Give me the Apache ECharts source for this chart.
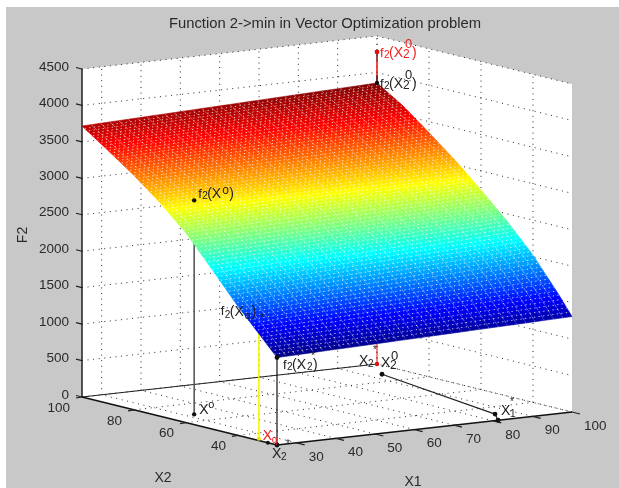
<!DOCTYPE html>
<html><head><meta charset="utf-8">
<style>html,body{margin:0;padding:0;background:#fff}#c{width:619px;height:488px}</style>
<script src="https://cdn.jsdelivr.net/npm/echarts@6/dist/echarts.min.js"></script>
</head><body><div id="c"></div>
<script>
// ---- values ----
const x1Ticks = [30,40,50,60,70,80,90,100];
const x2Ticks = [40,60,80,100];
const zTicks = [0,500,1000,1500,2000,2500,3000,3500,4000,4500];
const x1Range = [25,100];
const x2Range = [25,100];
const zRange = [0,4500];
// surface F2 sampled along its two long edges
const x2Levels = [25,30,40,50,60,70,80,90,100];
const f2AtX1Low  = [1200,1390,1770,2190,2600,2930,3215,3470,3718];
const f2AtX1High = [1310,1560,2020,2400,2740,3060,3350,3630,3855];
// points on the chart [x1,x2,F2]
const pointXo = [32.3,67.9,0];   const pointXoTop = [32.3,67.9,2936];
const pointXq = [26.2,33.8,0];   const pointXqTop = [26.2,33.8,1509];
const pointXqAxis = [25,28.5,0];
const pointX2Star = [25,25,0];   const pointX2StarTop = [25,25,1200];
const pointX20 = [100,100,0];    const pointX20Top = [100,100,3855]; const pointX20Red = [100,100,4281];
const pointX1Start = [93.6,88.4,0]; const pointX1Star = [85.06,32,0]; const pointX1Axis = [81.2,25,0];

// ---- view: orthographic projection of the MATLAB box ----
const ORIGIN=[277,445], EX=[295,-33], EY=[-195,-48], EZ=[0,-328];
function project(p){
  const a=(p[0]-x1Range[0])/(x1Range[1]-x1Range[0]), b=(p[1]-x2Range[0])/(x2Range[1]-x2Range[0]), c=p[2]/zRange[1];
  return [ORIGIN[0]+a*EX[0]+b*EY[0]+c*EZ[0], ORIGIN[1]+a*EX[1]+b*EY[1]+c*EZ[1]];
}
const zMin=Math.min(...f2AtX1Low), zMax=Math.max(...f2AtX1High);
function jet(z){
  const t=(z-zMin)/(zMax-zMin), cl=v=>Math.round(255*Math.max(0,Math.min(1,v)));
  return `rgb(${cl(1.5-Math.abs(4*t-3))},${cl(1.5-Math.abs(4*t-2))},${cl(1.5-Math.abs(4*t-1))})`;
}
function f2(x1,x2){ // shading lookup within the read table, for the fine mesh only
  let i=0; while(i<x2Levels.length-2 && x2>x2Levels[i+1]) i++;
  const u=(x2-x2Levels[i])/(x2Levels[i+1]-x2Levels[i]), v=(x1-x1Range[0])/(x1Range[1]-x1Range[0]);
  const lo=f2AtX1Low[i]+u*(f2AtX1Low[i+1]-f2AtX1Low[i]), hi=f2AtX1High[i]+u*(f2AtX1High[i+1]-f2AtX1High[i]);
  return lo+v*(hi-lo);
}
const X1A=x1Range[0],X1B=x1Range[1],X2A=x2Range[0],X2B=x2Range[1],ZT=zRange[1];
const DOT={stroke:'#2a2a2a',lineWidth:1,lineDash:[1,4.6],fill:null};
const AXIS={stroke:'#222',lineWidth:1.2,fill:null};

function layer(fn,data){return {type:'custom',coordinateSystem:'cartesian2d',silent:true,animation:false,progressive:0,clip:false,
  data:data||[[0,0]],encode:{x:0,y:1},renderItem:function(params,api){
    const c=p=>api.coord(p);
    const h={
      line:(a,b,st)=>({type:'polyline',shape:{points:[c(project(a)),c(project(b))]},style:st}),
      path:(pts,st)=>({type:'polyline',shape:{points:pts.map(p=>c(project(p)))},style:st}),
      area:(pts,fill,st)=>({type:'polygon',shape:{points:pts.map(p=>c(project(p)))},style:Object.assign({fill:fill},st||{})}),
      dot:(p,r,fill)=>{const q=c(project(p));return {type:'circle',shape:{cx:q[0],cy:q[1],r:r},style:{fill:fill}};},
      seg:(p,d,st)=>{const q=c(project(p));return {type:'polyline',shape:{points:[q,[q[0]+d[0],q[1]+d[1]]]},style:st};},
      text:(p,d,s,o,rot)=>{const q=c(project(p));return {type:'text',x:q[0]+d[0],y:q[1]+d[1],rotation:rot||0,style:Object.assign({text:String(s),fontFamily:'Liberation Sans',fontSize:13.5,fill:'#2a2a2a',align:'center',verticalAlign:'middle'},o||{})};}
    };
    return {type:'group',children:fn(h,params.dataIndex)};
  }};}

// walls, floor, dotted grid
const backdrop=layer(h=>{
  const out=[];
  out.push(h.area([[X1A,X2B,0],[X1B,X2B,0],[X1B,X2B,ZT],[X1A,X2B,ZT]],'#fff'));
  out.push(h.area([[X1B,X2B,0],[X1B,X2A,0],[X1B,X2A,ZT],[X1B,X2B,ZT]],'#fff'));
  out.push(h.area([[X1A,X2A,0],[X1B,X2A,0],[X1B,X2B,0],[X1A,X2B,0]],'#fff'));
  zTicks.forEach(z=>{ if(z>0) out.push(h.path([[X1A,X2B,z],[X1B,X2B,z],[X1B,X2A,z]],DOT)); });
  x1Ticks.forEach(v=>{
    out.push(h.line([v,X2B,0],[v,X2B,ZT],DOT));
    out.push(h.line([v,X2A,0],[v,X2B,0],DOT));
  });
  x2Ticks.forEach(v=>{
    out.push(h.line([X1B,v,0],[X1B,v,ZT],DOT));
    out.push(h.line([X1A,v,0],[X1B,v,0],DOT));
  });
  out.push(h.line([X1B,X2B,0],[X1B,X2A,0],DOT));
  // solid axes
  out.push(h.line([X1A,X2B,0],[X1A,X2B,ZT],{stroke:'#222',lineWidth:1.5,fill:null}));
  out.push(h.line([X1A,X2B,0],[X1B,X2B,0],AXIS));
  out.push(h.line([X1A,X2B,0],[X1A,X2A,0],{stroke:'#111',lineWidth:1.5,fill:null}));
  out.push(h.line([X1A,X2A,0],[X1B,X2A,0],{stroke:'#111',lineWidth:1.5,fill:null}));
  // ticks and tick labels
  zTicks.forEach(z=>{
    out.push(h.seg([X1A,X2B,z],[-6,-1.5],AXIS));
    out.push(h.text([X1A,X2B,z],[-13,-2],z,{align:'right'}));
  });
  x1Ticks.forEach(v=>{
    out.push(h.seg([v,X2A,0],[8,2],AXIS));
    out.push(h.text([v,X2A,0],[12,14],v,{align:'left'}));
  });
  x2Ticks.forEach(v=>{
    out.push(h.seg([X1A,v,0],[-6,1],AXIS));
    out.push(h.text([X1A,v,0],[-12,11],v,{align:'right'}));
  });
  return out;
});

// vertical drop lines under the surface
const drops=layer(h=>[
  h.line(pointXo,pointXoTop,{stroke:'#5a5a5a',lineWidth:1.6,fill:null}),
  h.line(pointXq,pointXqTop,{stroke:'#f5f500',lineWidth:1.5,fill:null}),
  h.line(pointX2Star,pointX2StarTop,{stroke:'#111',lineWidth:1.2,fill:null}),
  h.line(pointX20,pointX20Red,{stroke:'#f03030',lineWidth:1.2,fill:null}),
  h.line(pointX1Start,pointX1Star,{stroke:'#222',lineWidth:1.2,fill:null}),
  h.line(pointX1Star,pointX1Axis,{stroke:'#222',lineWidth:1.2,fill:null}),
  h.dot(pointXo,2.2,'#111'),h.dot(pointXq,2,'#f0e000'),h.dot(pointXqAxis,2,'#111'),
  h.dot(pointX2Star,2.4,'#111'),h.dot(pointX20,2.2,'#e01010'),
  h.dot(pointX1Start,2.4,'#111'),h.dot(pointX1Star,2.4,'#111'),h.dot(pointX1Axis,2.4,'#111')
]);

// surface: one data row per x2 interval, drawn as the fine MATLAB mesh
const ROWS_PER_UNIT=1, X1_CELLS=32;
const surface=layer((h,idx)=>{
  const out=[], a=x2Levels[idx], b=x2Levels[idx+1], n=Math.round((b-a)*ROWS_PER_UNIT), dx=(X1B-X1A)/X1_CELLS;
  for(let r=0;r<n;r++){
    const v0=a+(b-a)*r/n, v1=a+(b-a)*(r+1)/n;
    for(let k=0;k<X1_CELLS;k++){
      const u0=X1A+k*dx,u1=u0+dx,col=jet(f2(u0+dx/2,(v0+v1)/2));
      out.push(h.area([[u0,v0,f2(u0,v0)],[u1,v0,f2(u1,v0)],[u1,v1,f2(u1,v1)],[u0,v1,f2(u0,v1)]],col,{stroke:col,lineWidth:0.6}));
    }
  }
  return out;
},x2Levels.slice(0,-1).map((v,i)=>[i,v]));
const meshLines=layer(h=>{
  const out=[], dx=(X1B-X1A)/X1_CELLS;
  for(let k=1;k<X1_CELLS;k++){
    const u=X1A+k*dx, pts=[]; for(let v=X2B;v>=X2A;v-=5)pts.push([u,v,f2(u,v)]);
    out.push(h.path(pts,{stroke:'rgba(255,255,255,0.38)',lineWidth:1,lineDash:[3,1.6],fill:null}));
  }
  for(let v=X2A+1,r=0;v<X2B;v+=1,r++){
    out.push(h.path([[X1A,v,f2(X1A,v)],[X1B,v,f2(X1B,v)]],{stroke:'rgba(255,255,255,0.75)',lineWidth:1,lineDash:[1.2,3.4],lineDashOffset:r*1.7,fill:null}));
  }
  return out;
});

// labels: [text, dx, dy, size]
const RED='#f02020', INK='#222';
function fLabel(h,p,col,sub,sup,ox,oy){
  const o=s=>({fill:col,align:'left',fontSize:s});
  const t=[['f',ox,oy,13],['2',ox+4,oy+2,10],['(X',ox+9,oy,14],[sub,ox+23,oy+2,12],[sup,ox+25,oy-9,13],[')',ox+32,oy,14]];
  return t.map(e=>h.text(p,[e[1],e[2]],e[0],o(e[3])));
}
const marks=layer(h=>{
  const out=[];
  out.push(h.line(pointX20Top,pointX20Red,{stroke:RED,lineWidth:1.2,fill:null}));
  out.push(h.line([100,100,3855],[100,100,3960],{stroke:'#222',lineWidth:1.2,fill:null}));
  out.push(h.line([100,100,4160],[100,100,4281],{stroke:'#444',lineWidth:1,fill:null}));
  out.push(h.dot(pointX20Top,2.2,'#111'),h.dot(pointX20Red,2.4,'#e01010'),h.dot(pointXoTop,2.2,'#111'),h.dot(pointX2StarTop,2.4,'#111'));
  out.push(...fLabel(h,pointX20Red,RED,'2','0',3,1));
  out.push(...fLabel(h,pointX20Top,INK,'2','0',3,1));
  // f2(X°)
  [['f',4,-6,13],['2',8,-4,10],['(X',13,-6,14],['o',28,-10,12],[')',35,-6,14]].forEach(e=>out.push(h.text(pointXoTop,[e[1],e[2]],e[0],{align:'left',fontSize:e[3],fill:INK})));
  // f2(Xq*)
  [['f',-38,-17,13],['2',-34,-14,10],['(X',-29,-17,14],['q',-14,-13,10],[')',-7,-17,14],['*',1,-11,11]].forEach(e=>out.push(h.text(pointXqTop,[e[1],e[2]],e[0],{align:'left',fontSize:e[3],fill:INK})));
  // f2(X2*)
  [['f',6,8,13],['2',10,10,10],['(X',15,8,14],['2',30,10,10],['*',34,-2,11],[')',36,8,14]].forEach(e=>out.push(h.text(pointX2StarTop,[e[1],e[2]],e[0],{align:'left',fontSize:e[3],fill:INK})));
  // floor labels
  [['X',5,-4,14],['o',14,-9,11]].forEach(e=>out.push(h.text(pointXo,[e[1],e[2]],e[0],{align:'left',fontSize:e[3],fill:INK})));
  [['X',4,-3,14],['q',13,1,10]].forEach(e=>out.push(h.text(pointXq,[e[1],e[2]],e[0],{align:'left',fontSize:e[3],fill:RED})));
  [['X',-5,9,14],['2',4,12,10],['*',9,-1,10]].forEach(e=>out.push(h.text(pointX2Star,[e[1],e[2]],e[0],{align:'left',fontSize:e[3],fill:INK})));
  [['X',-18,-3,14],['2',-9,0,10],['*',-4,-14,10],['X',4,-1,14],['2',13,2,12],['0',14,-8,13]].forEach(e=>out.push(h.text(pointX20,[e[1],e[2]],e[0],{align:'left',fontSize:e[3],fill:INK})));
  [['X',6,-3,14],['1',15,0,10],['*',15,-12,10]].forEach(e=>out.push(h.text(pointX1Star,[e[1],e[2]],e[0],{align:'left',fontSize:e[3],fill:INK})));
  // axis names
  out.push(h.text([X1A,X2B,0],[-59,-162],'F2',{fontSize:14},Math.PI/2));
  out.push(h.text([X1A,X2A,0],[-114,33],'X2',{fontSize:14}));
  out.push(h.text([X1A,X2A,0],[136,37],'X1',{fontSize:14}));
  return out;
});

const chart=echarts.init(document.getElementById('c'),null,{renderer:'canvas'});
chart.setOption({
  animation:false,backgroundColor:'#fff',
  title:{text:'Function 2->min in Vector Optimization problem',left:320,top:11,textAlign:'center',
    textStyle:{fontFamily:'Liberation Sans',fontSize:14.8,fontWeight:'normal',color:'#2a2a2a'}},
  graphic:{elements:[{type:'rect',shape:{x:6,y:7,width:613,height:481},style:{fill:'#c8c8c8'},z:-100,silent:true}]},
  grid:{left:0,right:0,top:0,bottom:0,containLabel:false},
  xAxis:{type:'value',min:0,max:619,show:false},
  yAxis:{type:'value',min:0,max:488,inverse:true,show:false},
  series:[backdrop,drops,surface,meshLines,marks]
});
</script></body></html>
